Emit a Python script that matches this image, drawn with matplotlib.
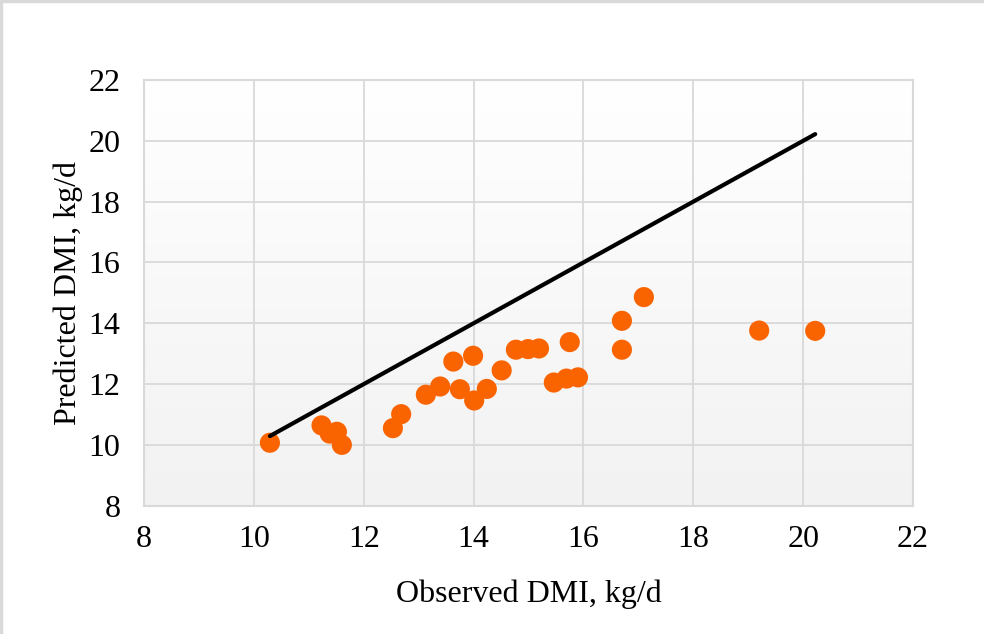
""" Observed vs predicted DMI scatter.
"""

import numpy as np
import matplotlib.pyplot as plt
from matplotlib.colors import LinearSegmentedColormap
from matplotlib.lines import Line2D

""" DATA """
observed = [10.29, 11.23, 11.38, 11.51, 11.60, 12.53, 12.68, 13.13, 13.39, 13.63,
            13.99, 13.75, 14.01, 14.24, 14.51, 14.77, 14.99, 15.19, 15.75, 15.46,
            15.69, 15.90, 16.70, 16.70, 17.10, 19.20, 20.22]
predicted = [10.07, 10.64, 10.37, 10.43, 10.00, 10.55, 11.01, 11.65, 11.92, 12.74,
             12.93, 11.83, 11.46, 11.84, 12.45, 13.13, 13.15, 13.17, 13.38, 12.05,
             12.18, 12.22, 14.08, 13.13, 14.86, 13.76, 13.75]
ticks = [8, 10, 12, 14, 16, 18, 20, 22]

plt.rcParams['font.family'] = ['Liberation Serif', 'DejaVu Serif']

fig = plt.figure(figsize=(9.84, 6.34), dpi=100)
ax = fig.add_axes([0.1465, 0.2024, 0.7813, 0.6714])

# plot area gradient, white at the top to light gray at the bottom
cmap = LinearSegmentedColormap.from_list('bg', ['#F2F2F2', '#FFFFFF'])
grad = np.linspace(0, 1, 256).reshape(-1, 1)
ax.imshow(grad, cmap=cmap, origin='lower', aspect='auto',
          extent=[0, 1, 0, 1], transform=ax.transAxes, zorder=0)

ax.scatter(observed, predicted, s=210, color='#FA6400', edgecolors='none', zorder=3)
ax.plot([min(observed), max(observed)], [min(observed), max(observed)],
        color='black', lw=3.0, solid_capstyle='round', zorder=4)

ax.set_xlim(8, 22)
ax.set_ylim(8, 22)
ax.set_xticks(ticks)
ax.set_yticks(ticks)
ax.grid(True, color='#D9D9D9', lw=1.3, zorder=1)
ax.set_axisbelow(True)
for s in ax.spines.values():
    s.set_color('#D9D9D9')
    s.set_linewidth(1.5)
ax.tick_params(length=0, labelsize=23, pad=14)
ax.tick_params(axis='y', pad=17)

ax.set_xlabel("Observed DMI, kg/d", fontsize=23, labelpad=18)
ax.set_ylabel("Predicted DMI, kg/d", fontsize=23, labelpad=4)

# outer chart border (left and top visible)
fig.add_artist(Line2D([0.001, 0.001], [0, 1], color='#D9D9D9', lw=2.5,
                      transform=fig.transFigure))
fig.add_artist(Line2D([0, 1], [0.999, 0.999], color='#D9D9D9', lw=2.5,
                      transform=fig.transFigure))

fig.savefig("out.png", dpi=100)
